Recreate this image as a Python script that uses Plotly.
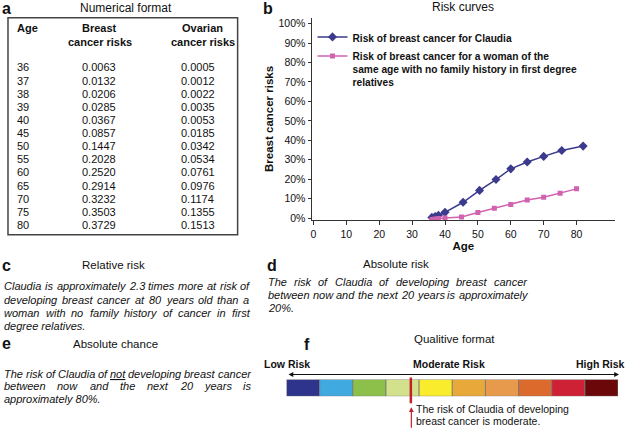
import plotly.graph_objects as go

# ---------------- data ----------------
table_ages = [36, 37, 38, 39, 40, 45, 50, 55, 60, 65, 70, 75, 80]
breast_risks = ["0.0063", "0.0132", "0.0206", "0.0285", "0.0367", "0.0857", "0.1447",
                "0.2028", "0.2520", "0.2914", "0.3232", "0.3503", "0.3729"]
ovarian_risks = ["0.0005", "0.0012", "0.0022", "0.0035", "0.0053", "0.0185", "0.0342",
                 "0.0534", "0.0761", "0.0976", "0.1174", "0.1355", "0.1513"]

claudia_age = [36, 37, 38, 40, 45.5, 50.5, 55.5, 60, 65, 70, 75.5, 82]
claudia_risk = [0.003, 0.008, 0.014, 0.029, 0.081, 0.142, 0.198, 0.253, 0.288, 0.317, 0.347, 0.370]
general_age = [36, 37, 38, 40, 45, 50, 55, 60, 65, 70, 75, 80]
general_risk = [-0.008, -0.005, -0.003, 0.0, 0.005, 0.028, 0.050, 0.070, 0.093, 0.107, 0.127, 0.150]

risk_levels = [1] * 10
risk_colors = ["#2e348c", "#3fa9e0", "#8dbf4b", "#d3e08c", "#f9ec2c",
               "#e9a93a", "#e79a4c", "#db6a2c", "#cf2136", "#6c0709"]
claudia_level = 3.75

W, H = 627, 434
FONT = "Liberation Sans, Arial, sans-serif"


def px(x):
    return x / W


def py(y):
    return 1 - y / H


fig = go.Figure()

# ---------------- panel b: risk curves ----------------
fig.add_trace(go.Scatter(
    x=claudia_age, y=claudia_risk, mode="lines+markers",
    name="<b>Risk of breast cancer for Claudia</b>",
    line=dict(color="#3b3a8c", width=1.5),
    marker=dict(symbol="diamond", size=7, color="#3b3a8c"),
    xaxis="x", yaxis="y"))
fig.add_trace(go.Scatter(
    x=general_age, y=general_risk, mode="lines+markers",
    name="<b>Risk of breast cancer for a woman of the<br>same age with no family history in first degree<br>relatives</b>",
    line=dict(color="#d062b0", width=1.5),
    marker=dict(symbol="square", size=5, color="#d062b0"),
    xaxis="x", yaxis="y"))

# ---------------- panel f: qualitative bar ----------------
fig.add_trace(go.Bar(
    x=risk_levels, y=[0] * len(risk_levels),
    base=[sum(risk_levels[:i]) for i in range(len(risk_levels))],
    orientation="h", width=1,
    marker=dict(color=risk_colors, line=dict(color="#777777", width=0.8)),
    showlegend=False, hoverinfo="skip",
    xaxis="x2", yaxis="y2"))

annotations = []
shapes = []


def txt(x, y, s, size=11, anchor="left", bold=False, italic=False, color="#111111", yanchor="middle"):
    if bold:
        s = "<b>" + s + "</b>"
    if italic:
        s = "<i>" + s + "</i>"
    annotations.append(dict(x=px(x), y=py(y), xref="paper", yref="paper", text=s,
                            showarrow=False, xanchor=anchor, yanchor=yanchor,
                            font=dict(family=FONT, size=size, color=color),
                            borderpad=0, borderwidth=0))


# Arial / Liberation Sans advance widths (per 1000 em)
AW = {' ': 278, '.': 278, ',': 278, '%': 889}
for c in "0123456789":
    AW[c] = 556
AW.update(dict(A=667, B=667, C=722, D=722, E=667, F=611, G=778, H=722, I=278, J=500, K=667,
               L=556, M=833, N=722, O=778, P=667, Q=778, R=722, S=667, T=611, U=722, V=667,
               W=944, X=667, Y=667, Z=611))
AW.update(dict(a=556, b=556, c=500, d=556, e=556, f=278, g=556, h=556, i=222, j=222, k=500,
               l=222, m=833, n=556, o=556, p=556, q=556, r=333, s=500, t=278, u=556, v=500,
               w=722, x=500, y=500, z=500))


def wwidth(word, size):
    plain = word.replace("<u>", "").replace("</u>", "")
    return sum(AW.get(ch, 556) for ch in plain) * size / 1000.0


def justified(lines, x0, x1, y0, lh, size=11):
    for li, line in enumerate(lines):
        y = y0 + li * lh
        words = line.split(" ")
        if li == len(lines) - 1 or len(words) == 1:
            txt(x0, y, line, size=size, italic=True)
            continue
        ws = [wwidth(w, size) for w in words]
        gap = (x1 - x0 - sum(ws)) / (len(words) - 1)
        x = x0
        for w, wd in zip(words, ws):
            txt(x, y, w, size=size, italic=True)
            x += wd + gap


# ---------------- panel a: table ----------------
txt(1, 9, "a", size=16, bold=True)
txt(125, 8, "Numerical format", size=12, anchor="center")
shapes.append(dict(type="rect", xref="paper", yref="paper", x0=px(7), x1=px(237), y0=py(18), y1=py(237),
                   line=dict(color="#444444", width=1.5)))
txt(16, 28, "Age", size=11, bold=True)
txt(99, 28, "Breast", size=11, bold=True, anchor="center")
txt(99, 42, "cancer risks", size=11, bold=True, anchor="center")
txt(202, 28, "Ovarian", size=11, bold=True, anchor="center")
txt(202, 42, "cancer risks", size=11, bold=True, anchor="center")
for i, (a, b, o) in enumerate(zip(table_ages, breast_risks, ovarian_risks)):
    yy = 68 + i * 13.25
    txt(16, yy, str(a), size=11)
    txt(98, yy, b, size=11, anchor="center")
    txt(197, yy, o, size=11, anchor="center")

# ---------------- panel b titles ----------------
txt(262, 9, "b", size=16, bold=True)
txt(463, 7, "Risk curves", size=12, anchor="center")

# ---------------- panel c ----------------
txt(1, 268, "c", size=16, bold=True)
txt(113, 267, "Relative risk", size=11.5, anchor="center")
justified(["Claudia is approximately 2.3 times more at risk of",
           "developing breast cancer at 80 years old than a",
           "woman with no family history of cancer in first",
           "degree relatives."], 3, 249, 289, 13.3)

# ---------------- panel d ----------------
txt(266, 268, "d", size=16, bold=True)
txt(396, 266, "Absolute risk", size=11.5, anchor="center")
justified(["The risk of Claudia of developing breast cancer",
           "between now and the next 20 years is approximately",
           "20%."], 267, 527, 285, 13)

# ---------------- panel e ----------------
txt(1, 347, "e", size=16, bold=True)
txt(115, 347, "Absolute chance", size=11.5, anchor="center")
justified(["The risk of Claudia of <u>not</u> developing breast cancer",
           "between now and the next 20 years is",
           "approximately 80%."], 3, 250, 377, 13)

# ---------------- panel f ----------------
txt(303, 348, "f", size=16, bold=True)
txt(454, 342, "Qualitive format", size=11.5, anchor="center")
txt(263, 367, "Low Risk", size=10.5, bold=True)
txt(449, 367, "Moderate Risk", size=10.5, bold=True, anchor="center")
txt(625, 367, "High Risk", size=10.5, bold=True, anchor="right")
annotations.append(dict(x=px(619), y=py(378), xref="paper", yref="paper", ax=-(619 - 287), ay=0,
                        text="", showarrow=True, arrowhead=2, arrowside="end+start",
                        arrowsize=0.8, arrowwidth=1.2, arrowcolor="#111111"))
shapes.append(dict(type="line", xref="x2", yref="paper", x0=claudia_level, x1=claudia_level,
                   y0=py(407), y1=py(381), line=dict(color="#c3202c", width=2.5)))
annotations.append(dict(x=px(411), y=py(411), xref="paper", yref="paper", ax=0, ay=22,
                        text="", showarrow=True, arrowhead=2, arrowsize=0.8, arrowwidth=1.2,
                        arrowcolor="#c3202c"))
txt(416, 413, "The risk of Claudia of developing", size=10.5)
txt(416, 425, "breast cancer is moderate.", size=10.5)

fig.update_layout(
    width=W, height=H,
    margin=dict(l=0, r=0, t=0, b=0),
    paper_bgcolor="white", plot_bgcolor="white",
    font=dict(family=FONT, color="#111111"),
    showlegend=True,
    legend=dict(x=px(312), y=py(24), xanchor="left", yanchor="top",
                bgcolor="rgba(0,0,0,0)", font=dict(family=FONT, size=10.2, color="#111111"),
                valign="top", itemwidth=30, tracegroupgap=0),
    xaxis=dict(domain=[px(311), px(615)], range=[-0.6, 91.7], showgrid=False, zeroline=False,
               showline=True, linecolor="#333333", linewidth=1, ticks="outside", ticklen=4,
               tickcolor="#333333", tickvals=[0, 10, 20, 30, 40, 50, 60, 70, 80],
               tickfont=dict(size=10.5),
               title=dict(text="<b>Age</b>", font=dict(size=11.5), standoff=2)),
    yaxis=dict(domain=[py(222), py(18)], range=[-0.01, 1.03], showgrid=False, zeroline=False,
               showline=True, linecolor="#333333", linewidth=1, ticks="outside", ticklen=3,
               tickcolor="#333333", tickvals=[i / 10 for i in range(11)], tickformat=".0%",
               tickfont=dict(size=10.5),
               title=dict(text="<b>Breast cancer risks</b>", font=dict(size=11.5), standoff=2)),
    xaxis2=dict(domain=[px(286), px(618)], range=[0, 10], visible=False, fixedrange=True),
    yaxis2=dict(domain=[py(400), py(383)], range=[-0.5, 0.5], visible=False, fixedrange=True),
    annotations=annotations,
    shapes=shapes,
)

fig.write_html("out.html", config={"displayModeBar": False, "staticPlot": True},
               post_script="document.body.style.margin='0';document.body.style.overflow='hidden';")
